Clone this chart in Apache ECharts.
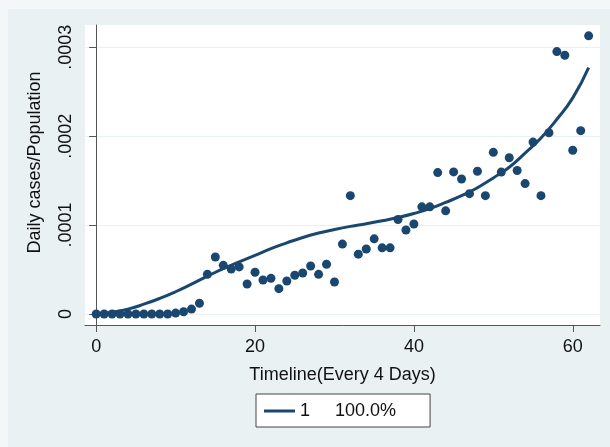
<!DOCTYPE html>
<html>
<head>
<meta charset="utf-8">
<script src="https://cdn.jsdelivr.net/npm/echarts@6/dist/echarts.min.js"></script>
<style>
html,body{margin:0;padding:0;background:#f3f7f8;}
#chart{width:610px;height:447px;}
</style>
</head>
<body>
<div id="chart"></div>
<script>
// Timeline index (every 4 days)
const timeline = [0,1,2,3,4,5,6,7,8,9,10,11,12,13,14,15,16,17,18,19,20,21,22,23,24,25,26,27,28,29,30,
  31,32,33,34,35,36,37,38,39,40,41,42,43,44,45,46,47,48,49,50,51,52,53,54,55,56,57,58,59,60,61,62];
// Daily cases / population (observed)
const dailyRate = [0,0,0,0,0,0,0,0,0,0,0.000001,0.0000025,0.0000055,0.000012,
  0.0000446,0.0000641,0.0000547,0.0000506,0.0000529,0.0000337,0.0000469,0.0000382,0.0000401,0.0000285,
  0.0000371,0.0000435,0.0000461,0.000054,0.0000446,0.0000559,0.000036,0.0000786,0.0001331,0.0000673,
  0.0000731,0.0000845,0.0000744,0.0000744,0.0001062,0.0000945,0.0001012,0.0001205,0.0001205,0.000159,
  0.000116,0.0001598,0.0001518,0.0001353,0.0001605,0.0001331,0.0001818,0.0001596,0.0001757,0.0001614,
  0.0001466,0.0001933,0.0001331,0.0002038,0.0002951,0.000291,0.0001841,0.0002062,0.0003128];
// Fitted curve (read at even timeline points)
const fitX = [0,2,4,6,8,10,12,14,16,18,20,22,24,26,28,30,32,34,36,38,40,42,44,46,48,50,52,54,56,58,60,62];
const fitY = [0.0000005,0.000002,0.0000055,0.000011,0.0000175,0.000025,0.0000335,0.0000425,0.000051,0.0000585,
  0.000066,0.0000735,0.00008,0.000086,0.000091,0.000095,0.0000985,0.0001015,0.0001048,0.0001085,
  0.000113,0.0001185,0.0001255,0.000133,0.000142,0.000153,0.000165,0.000181,0.000198,0.000219,0.000243,0.000277];
const xTicks = [0,20,40,60];
const yTicks = [0,0.0001,0.0002,0.0003];
const legendLabel = '1     100.0%';

const navy = '#1a476f';
const font = 'Liberation Sans, Arial, sans-serif';
const chart = echarts.init(document.getElementById('chart'), null, {renderer:'canvas'});

chart.setOption({
  backgroundColor: '#f3f7f8',
  animation: false,
  graphic: [{
    type: 'rect', left: 8, top: 9, z: -10, silent: true,
    shape: {width: 602, height: 438},
    style: {fill: '#eaf1f3'}
  }],
  grid: {left: 85, right: 10, top: 25, bottom: 122, show: true, backgroundColor: '#ffffff', borderWidth: 0},
  xAxis: {
    type: 'value', min: -1.41, max: 63.43,
    name: 'Timeline(Every 4 Days)', nameLocation: 'middle', nameGap: 41,
    nameTextStyle: {fontFamily: font, fontSize: 18, color: '#111'},
    axisLine: {show: true, onZero: false, lineStyle: {color: '#555', width: 1}},
    axisTick: {show: true, length: 7, customValues: xTicks, lineStyle: {color: '#555'}},
    axisLabel: {customValues: xTicks, margin: 13, fontFamily: font, fontSize: 18, color: '#111'},
    splitLine: {show: false}
  },
  yAxis: {
    type: 'value', min: -0.0000124, max: 0.000325,
    name: 'Daily cases/Population', nameLocation: 'middle', nameGap: 41,
    nameTextStyle: {fontFamily: font, fontSize: 18, color: '#111', padding: [0,0,0,25]},
    axisLine: {show: true, lineStyle: {color: '#555', width: 1}},
    axisTick: {show: true, length: 7, customValues: yTicks, lineStyle: {color: '#555'}},
    axisLabel: {customValues: yTicks, rotate: 90, margin: 10, fontFamily: font, fontSize: 18, color: '#111',
      formatter: v => (Math.abs(v) < 1e-12 ? '0' : v.toFixed(4).replace(/^0/, ''))},
    splitLine: {show: true, lineStyle: {color: '#eaf1f3', width: 1.2}}
  },
  legend: {
    show: true, left: 256, top: 394, orient: 'horizontal',
    data: [{name: 'fit', icon: 'rect'}],
    itemWidth: 31, itemHeight: 3, itemGap: 5,
    padding: [8, 34, 7, 8],
    backgroundColor: '#ffffff', borderColor: '#444', borderWidth: 1,
    formatter: () => legendLabel,
    textStyle: {fontFamily: font, fontSize: 18, color: '#111'}
  },
  series: [
    {
      name: 'obs', type: 'scatter', symbol: 'circle', symbolSize: 9,
      itemStyle: {color: navy, opacity: 1},
      data: timeline.map((t, i) => [t, dailyRate[i]]),
      z: 3
    },
    {
      name: 'fit', type: 'line', smooth: true, showSymbol: false, symbol: 'none',
      lineStyle: {color: navy, width: 3},
      itemStyle: {color: navy},
      data: fitX.map((t, i) => [t, fitY[i]]),
      z: 4
    }
  ]
});
</script>
</body>
</html>
